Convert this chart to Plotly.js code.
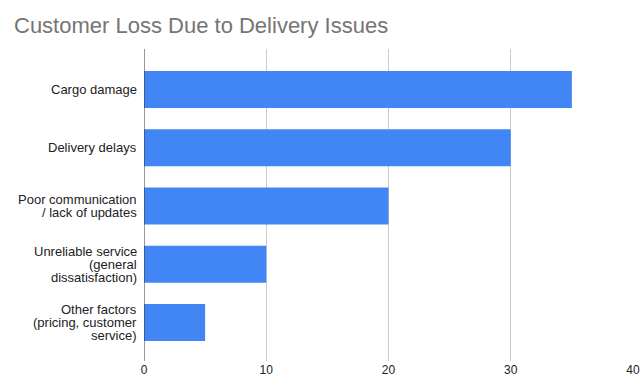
<!DOCTYPE html>
<html><head><meta charset="utf-8">
<script src="https://cdn.plot.ly/plotly-3.0.1.min.js"></script>
<style>html,body{margin:0;padding:0;background:#fff}#c{width:642px;height:391px}</style>
</head><body><div id="c"></div>
<script>
const categories = ["Cargo damage", "Delivery delays", "Poor communication<br>/ lack of updates", "Unreliable service<br>(general<br>dissatisfaction)", "Other factors<br>(pricing, customer<br>service)"];
const values = [35, 30, 20, 10, 5];
const xTicks = [0, 10, 20, 30, 40];

const FONT = 'Liberation Sans, Arial, sans-serif';
const annotations = [];
categories.forEach(function (cat) {
  const lines = cat.split('<br>');
  const n = lines.length;
  lines.forEach(function (ln, i) {
    annotations.push({
      xref: 'paper', yref: 'y', x: 0, y: cat, text: ln, showarrow: false,
      xanchor: 'right', yanchor: 'middle', xshift: -6, yshift: ((n - 1) / 2 - i) * 13,
      borderpad: 0,
      font: {family: FONT, size: 13, color: '#222'}
    });
  });
});

Plotly.newPlot('c', [{
  type: 'bar', orientation: 'h', x: values, y: categories,
  marker: {color: '#4285F4'}, width: 0.635, hoverinfo: 'none'
}], {
  width: 642, height: 391,
  margin: {l: 144, r: 9, t: 49, b: 30},
  paper_bgcolor: '#fff', plot_bgcolor: '#fff',
  font: {family: FONT, size: 12, color: '#222'},
  title: {text: 'Customer Loss Due to Delivery Issues', xref: 'container', x: 14 / 642, xanchor: 'left',
          yref: 'container', y: 1 - 25 / 391, yanchor: 'middle',
          font: {family: FONT, size: 22, color: '#757575'}},
  xaxis: {range: [0, 40], tickvals: xTicks, ticktext: xTicks.map(String), showgrid: true, gridcolor: '#cccccc', gridwidth: 1,
          zeroline: false, showline: false, ticks: '', fixedrange: true, tickfont: {size: 12, color: '#222'}},
  yaxis: {type: 'category', range: [4.66, -0.695], showgrid: false, zeroline: false, showline: false, ticks: '',
          showticklabels: false},
  annotations: annotations,
  shapes: [{type: 'line', xref: 'x', yref: 'paper', x0: 0, x1: 0, y0: 0, y1: 1, line: {color: '#333', width: 1}}],
  showlegend: false
}, {displayModeBar: false, staticPlot: true});
</script></body></html>
